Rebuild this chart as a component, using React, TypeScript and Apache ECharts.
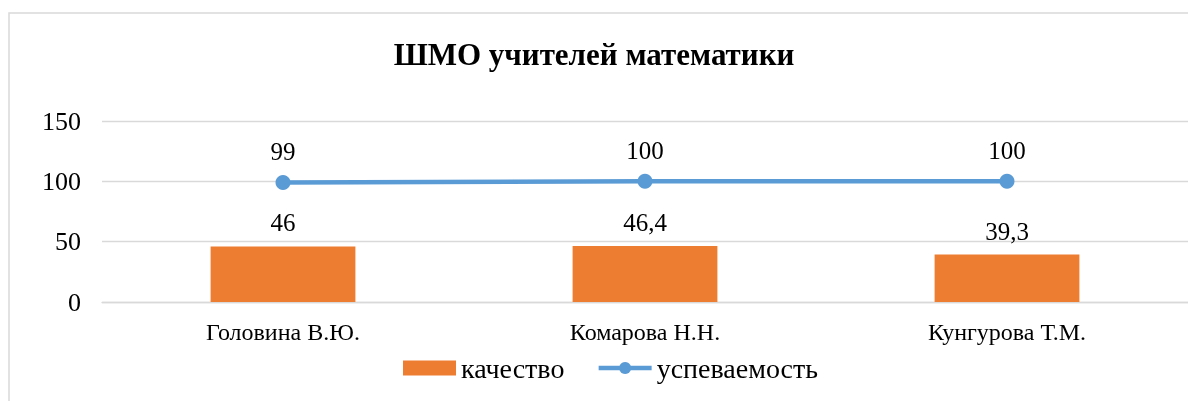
import React, { useEffect, useRef } from "react";
import * as echarts from "echarts";

const categories = ["Головина В.Ю.", "Комарова Н.Н.", "Кунгурова Т.М."];
const quality = [46, 46.4, 39.3];
const progress = [99, 100, 100];
const yTicks = [0, 50, 100, 150];

const FONT = "Liberation Serif";
const fmt = (v: number) => String(v).replace(".", ",");

export default function App() {
  const ref = useRef<HTMLDivElement>(null);
  useEffect(() => {
    if (!ref.current) return;
    const chart = echarts.init(ref.current, undefined, { renderer: "svg" });
    chart.setOption({
      animation: false,
      title: {
        text: "ШМО учителей математики",
        left: "center",
        top: 39,
        padding: 0,
        textStyle: { fontFamily: FONT, fontWeight: "bold", fontSize: 31, color: "#000" },
      },
      graphic: [
        {
          type: "rect",
          shape: { x: 9, y: 13, width: 1200, height: 400 },
          style: { fill: "none", stroke: "#d9d9d9", lineWidth: 1.5 },
          silent: true,
          z: -1,
        },
      ],
      legend: {
        bottom: 19,
        left: 403,
        padding: 0,
        itemGap: 32,
        itemWidth: 53,
        itemHeight: 15,
        textStyle: { fontFamily: FONT, fontSize: 28, color: "#000" },
        data: [
          { name: "качество", icon: "rect" },
          { name: "успеваемость", lineStyle: { width: 4.5 } },
        ],
      },
      grid: { left: 102, right: -5, top: 121, bottom: 99 },
      xAxis: {
        type: "category",
        data: categories,
        axisLine: { lineStyle: { color: "#d9d9d9", width: 1.3 } },
        axisTick: { show: false },
        axisLabel: { fontFamily: FONT, fontSize: 24, color: "#000", margin: 18 },
      },
      yAxis: {
        type: "value",
        min: yTicks[0],
        max: yTicks[yTicks.length - 1],
        interval: 50,
        axisLine: { show: false },
        axisTick: { show: false },
        splitLine: { lineStyle: { color: "#d9d9d9", width: 1.3 } },
        axisLabel: { fontFamily: FONT, fontSize: 26, color: "#000", margin: 21 },
      },
      series: [
        {
          name: "качество",
          type: "bar",
          data: quality,
          barWidth: "40%",
          itemStyle: { color: "#ED7D31" },
          label: {
            show: true,
            position: "top",
            distance: 11,
            fontFamily: FONT,
            fontSize: 25,
            color: "#000",
            formatter: (p: any) => fmt(p.value),
          },
        },
        {
          name: "успеваемость",
          type: "line",
          data: progress,
          symbol: "circle",
          symbolSize: 15,
          lineStyle: { color: "#5B9BD5", width: 4.5 },
          itemStyle: { color: "#5B9BD5" },
          label: {
            show: true,
            position: "top",
            distance: 11,
            fontFamily: FONT,
            fontSize: 25,
            color: "#000",
            formatter: (p: any) => fmt(p.value),
          },
        },
      ],
    });
    return () => chart.dispose();
  }, []);
  return (
    <div
      ref={ref}
      style={{ position: "fixed", left: 0, top: 0, width: 1188, height: 401 }}
    />
  );
}
